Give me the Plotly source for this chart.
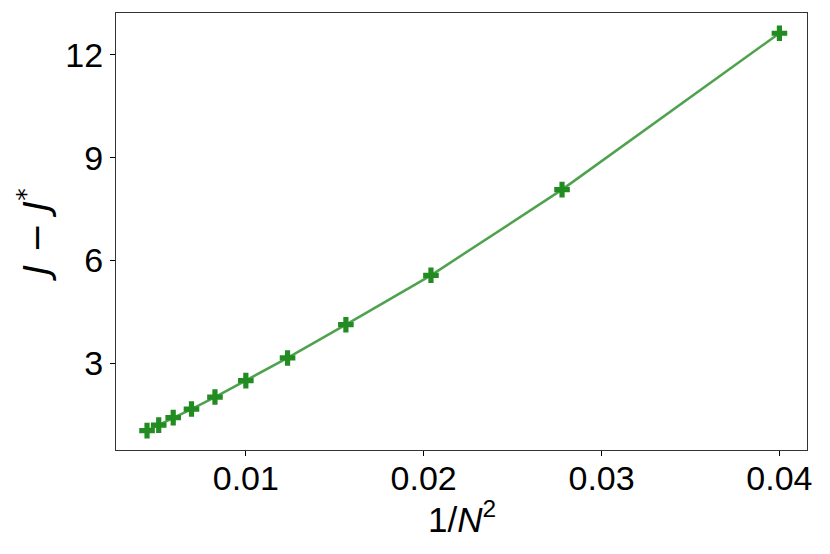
import plotly.graph_objects as go

N_values = [15, 14, 13, 12, 11, 10, 9, 8, 7, 6, 5]
inv_N2 = [1.0 / (n * n) for n in N_values]
J_diff = [1.04, 1.20, 1.42, 1.67, 2.02, 2.50, 3.16, 4.13, 5.57, 8.07, 12.63]

x_ticks = [0.01, 0.02, 0.03, 0.04]
x_ticklabels = ["0.01", "0.02", "0.03", "0.04"]
y_ticks = [3, 6, 9, 12]
x_title = "1/<i>N</i><sup>2</sup>"
y_title = "<i>J</i> − <i>J</i><sup>*</sup>"

fig = go.Figure()
fig.add_trace(go.Scatter(
    x=inv_N2, y=J_diff, mode="lines",
    line=dict(color="rgba(34,139,34,0.8)", width=2.5),
    showlegend=False, hoverinfo="skip",
))
fig.add_trace(go.Scatter(
    x=inv_N2, y=J_diff, mode="markers",
    marker=dict(symbol="cross", size=13, color="#228B22", line=dict(width=0)),
    showlegend=False,
))

font_family = "Liberation Sans, Arial, sans-serif"
fig.update_layout(
    width=830, height=554,
    margin=dict(l=116, r=23, t=13, b=104),
    paper_bgcolor="white", plot_bgcolor="white",
    font=dict(family=font_family, color="black"),
    xaxis=dict(
        range=[0.0027, 0.04155],
        tickvals=x_ticks, ticktext=x_ticklabels,
        ticks="outside", ticklen=5, tickwidth=1, tickcolor="black",
        tickfont=dict(size=34), ticklabelstandoff=-7,
        showgrid=False, zeroline=False,
        showline=True, linecolor="#333333", linewidth=1.3, mirror=True,
    ),
    yaxis=dict(
        range=[0.476, 13.22],
        tickvals=y_ticks,
        ticks="outside", ticklen=5, tickwidth=1, tickcolor="black",
        tickfont=dict(size=34),
        showgrid=False, zeroline=False,
        showline=True, linecolor="#333333", linewidth=1.3, mirror=True,
        title=dict(text=y_title,
                   font=dict(size=36, family="DejaVu Sans"), standoff=4),
    ),
    annotations=[dict(
        text=x_title, xref="paper", yref="paper", x=0.5, y=0,
        xanchor="center", yanchor="middle", yshift=-67, showarrow=False,
        font=dict(size=35, family=font_family, color="black"),
    )],
)

fig.write_html("out.html", config={"displayModeBar": False},
               post_script="document.body.style.margin='0px';")
